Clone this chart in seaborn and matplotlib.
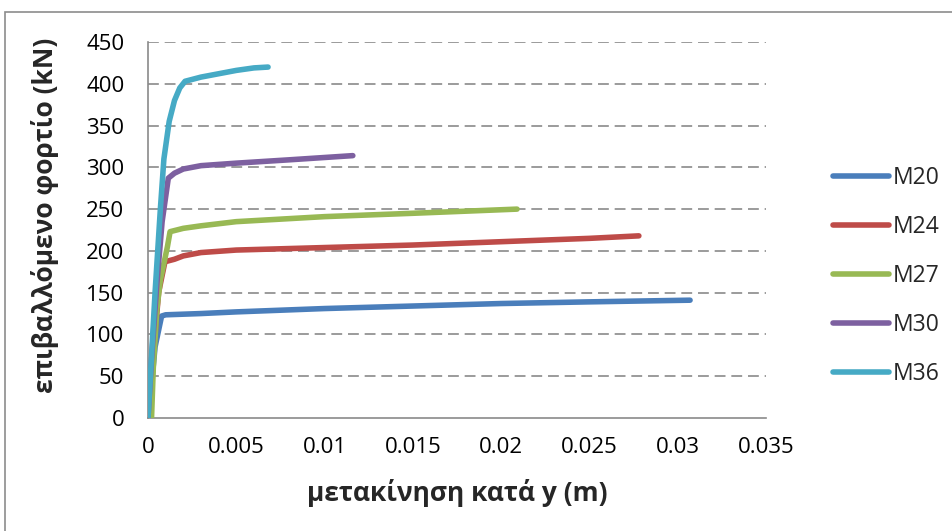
import numpy as np
import pandas as pd
import matplotlib
matplotlib.use("Agg")
import matplotlib.pyplot as plt
from matplotlib.patches import Rectangle
from matplotlib.ticker import MultipleLocator, FixedLocator
import seaborn as sns

# Load-displacement curves per bolt size
m20_x = [0.0, 0.0002, 0.0004, 0.0006, 0.00077, 0.001, 0.003, 0.005, 0.01, 0.015, 0.02, 0.025, 0.0307]
m20_y = [0, 40, 85, 105, 122, 123.5, 125, 127, 131, 134, 137, 139, 141]

m24_x = [0.0, 0.0002, 0.0004, 0.0006, 0.00096, 0.0015, 0.002, 0.003, 0.005, 0.01, 0.015, 0.02, 0.025, 0.0278]
m24_y = [0, 45, 100, 150, 187, 190, 194, 198, 201, 204, 207, 211, 215, 218]

m27_x = [0.0002, 0.0003, 0.0005, 0.0007, 0.0009, 0.0011, 0.00125, 0.002, 0.003, 0.005, 0.01, 0.015, 0.0209]
m27_y = [0, 60, 130, 165, 185, 205, 223, 227, 230, 235, 241, 245, 250]

m30_x = [0.0, 0.0002, 0.0005, 0.0008, 0.00115, 0.0015, 0.002, 0.003, 0.005, 0.008, 0.0116]
m30_y = [0, 70, 160, 235, 287, 293, 298, 302, 305, 309, 314]

m36_x = [0.0, 0.0002, 0.0004, 0.0007, 0.0009, 0.0012, 0.0015, 0.0018, 0.0021, 0.003, 0.004, 0.005, 0.006, 0.0068]
m36_y = [0, 75, 150, 250, 310, 355, 380, 395, 403, 408, 412, 416, 419, 420]

series = ["M20", "M24", "M27", "M30", "M36"]
colors = ["#4A7EBB", "#BE4B48", "#98B954", "#7D60A0", "#46AAC5"]

x_ticks = [0, 0.005, 0.01, 0.015, 0.02, 0.025, 0.03, 0.035]
x_tick_labels = ["0", "0.005", "0.01", "0.015", "0.02", "0.025", "0.03", "0.035"]
y_ticks = [0, 50, 100, 150, 200, 250, 300, 350, 400, 450]

frames = []
for name, xs, ys in zip(series, [m20_x, m24_x, m27_x, m30_x, m36_x],
                        [m20_y, m24_y, m27_y, m30_y, m36_y]):
    frames.append(pd.DataFrame({"disp": xs, "load": ys, "bolt": name}))
df = pd.concat(frames, ignore_index=True)

sns.set_theme(style="white")
plt.rcParams["font.family"] = ["Open Sans", "DejaVu Sans"]

fig = plt.figure(figsize=(9.53, 5.31), dpi=100)
ax = fig.add_axes([148 / 953, 1 - 418 / 531, (766 - 148) / 953, (418 - 42) / 531])

# Outer chart frame
fig.patches.append(Rectangle((5 / 953, -0.05), 1.0, 1 - 12 / 531 + 0.05,
                             transform=fig.transFigure, fill=False,
                             edgecolor="#8c8c8c", linewidth=1.2))

for yv in y_ticks[1:]:
    ax.axhline(yv, color="#8a8a8a", linewidth=1.2, linestyle=(0, (6.5, 3.5)), zorder=1)

sns.lineplot(data=df, x="disp", y="load", hue="bolt", palette=colors,
             sort=False, estimator=None, units="bolt", linewidth=4,
             ax=ax, zorder=3, legend=False)
for ln in ax.get_lines():
    ln.set_solid_capstyle("round")
    ln.set_solid_joinstyle("round")

ax.set_xlim(0, 0.035)
ax.set_ylim(0, 450)
ax.xaxis.set_major_locator(FixedLocator(x_ticks))
ax.set_xticklabels(x_tick_labels)
ax.xaxis.set_minor_locator(MultipleLocator(0.001))
ax.yaxis.set_major_locator(FixedLocator(y_ticks))
ax.yaxis.set_minor_locator(MultipleLocator(10))

for side in ["top", "right"]:
    ax.spines[side].set_visible(False)
for side in ["left", "bottom"]:
    ax.spines[side].set_color("#8a8a8a")
    ax.spines[side].set_linewidth(1.2)

ax.tick_params(axis="both", which="major", direction="inout", length=10,
               width=1.2, color="#8a8a8a", labelsize=16, labelcolor="black")
ax.tick_params(axis="both", which="minor", direction="out", length=5,
               width=1.2, color="#8a8a8a")
ax.tick_params(axis="x", which="major", pad=9)
ax.tick_params(axis="y", which="major", pad=12)

ax.set_xlabel("μετακίνηση κατά y (m)", fontsize=19, fontweight="bold")
ax.set_ylabel("επιβαλλόμενο φορτίο (kN)", fontsize=19, fontweight="bold")
ax.xaxis.label.set_va("center")
ax.yaxis.label.set_va("center")
ax.xaxis.set_label_coords(0.5, (418 - 493) / 376)
ax.yaxis.set_label_coords((45 - 148) / 618, (418 - 215) / 376)

handles = [plt.Line2D([], [], color=c, linewidth=4, solid_capstyle="round")
           for c in colors]
fig.legend(handles, series, loc="center left", bbox_to_anchor=(833 / 953, 1 - 276 / 531),
           frameon=False, fontsize=16.5, handlelength=2.45, handletextpad=0.17,
           labelspacing=1.1, borderaxespad=0, borderpad=0)

fig.savefig("out.png", dpi=100)
